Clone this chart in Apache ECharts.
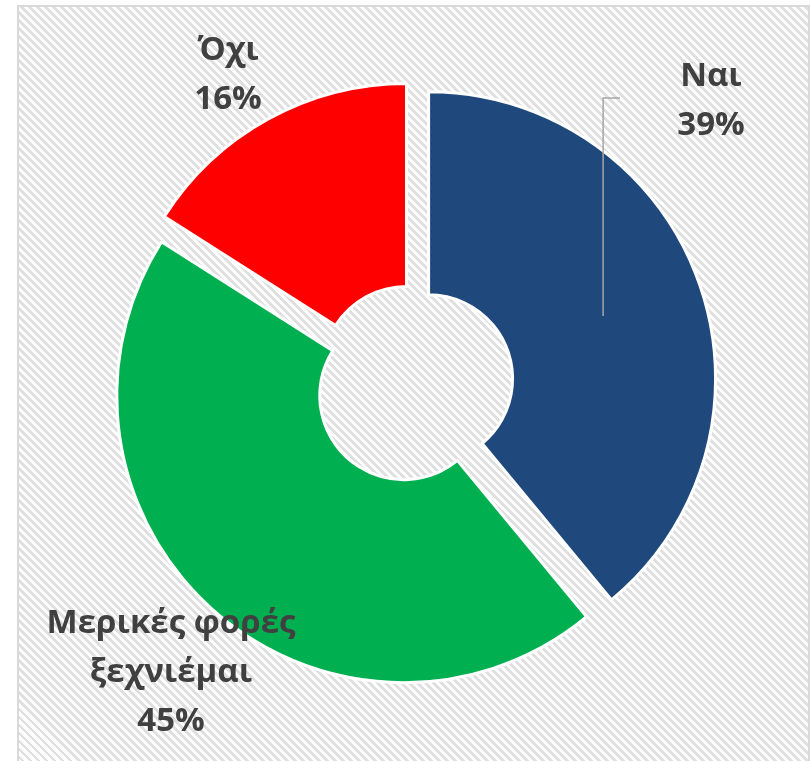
<!DOCTYPE html>
<html><head><meta charset="utf-8">
<script src="https://cdn.jsdelivr.net/npm/echarts@6/dist/echarts.min.js"></script>
<style>
html,body{margin:0;padding:0;background:#fff;width:811px;height:761px;overflow:hidden}
#frame{position:absolute;left:17px;top:5px;width:793px;height:780px;border:2px solid #d9d9d9;box-sizing:border-box;
background:repeating-linear-gradient(45deg,#dfdfdf 0,#dfdfdf 2.8px,#fff 2.8px,#fff 5.66px)}
#chart{position:absolute;left:0;top:0;width:811px;height:761px}
</style></head><body>
<div id="frame"></div><div id="chart"></div>
<script>
const categories = ['Ναι', 'Μερικές φορές\nξεχνιέμαι', 'Όχι'];
const values = [39, 45, 16];
const colors = ['#1F497D', '#00B050', '#FF0000'];

// layout constants
const CENTER = [414, 384];
const RADII = [84, 287];
const OFFSET = 15.5;
const labelPos = [[711, 101], [171, 673], [228, 75]];
const leaderY = 98, leaderEndX = 620;
const total = values.reduce((a, b) => a + b, 0);

function leaderPoints(idx) {
  let start = -Math.PI / 2;
  for (let i = 0; i < idx; i++) start += values[i] / total * 2 * Math.PI;
  const mid = start + values[idx] / total * Math.PI;
  const rm = (RADII[0] + RADII[1]) / 2;
  const x = CENTER[0] + Math.cos(mid) * (rm + OFFSET);
  const y = CENTER[1] + Math.sin(mid) * (rm + OFFSET);
  return [[x, y], [x, leaderY], [leaderEndX, leaderY]];
}

const labelFont = 'bold 33px "Open Sans"';
const labelTexts = categories.map((c, i) => ({
  type: 'text',
  z: 20,
  style: {
    text: c + '\n' + Math.round(values[i] / total * 100) + '%',
    x: labelPos[i][0], y: labelPos[i][1],
    align: 'center', verticalAlign: 'middle',
    font: labelFont, lineHeight: 49,
    fill: '#404040'
  }
}));

const chart = echarts.init(document.getElementById('chart'), null, {renderer: 'canvas'});
chart.setOption({
  animation: false,
  backgroundColor: 'transparent',
  graphic: {
    elements: labelTexts.concat([{
      type: 'polyline',
      z: 19,
      shape: {points: leaderPoints(0)},
      style: {stroke: '#a6a6a6', lineWidth: 1.5, fill: null}
    }])
  },
  series: [{
    type: 'pie',
    center: CENTER,
    radius: RADII,
    startAngle: 90,
    clockwise: true,
    selectedMode: 'multiple',
    selectedOffset: OFFSET,
    avoidLabelOverlap: false,
    emphasis: {disabled: true},
    itemStyle: {borderColor: '#ffffff', borderWidth: 3},
    label: {show: false},
    labelLine: {show: false},
    data: categories.map((c, i) => ({
      name: c,
      value: values[i],
      selected: true,
      itemStyle: {color: colors[i]},
      select: {itemStyle: {color: colors[i], borderColor: '#ffffff', borderWidth: 3}}
    }))
  }]
});
</script>
</body></html>
